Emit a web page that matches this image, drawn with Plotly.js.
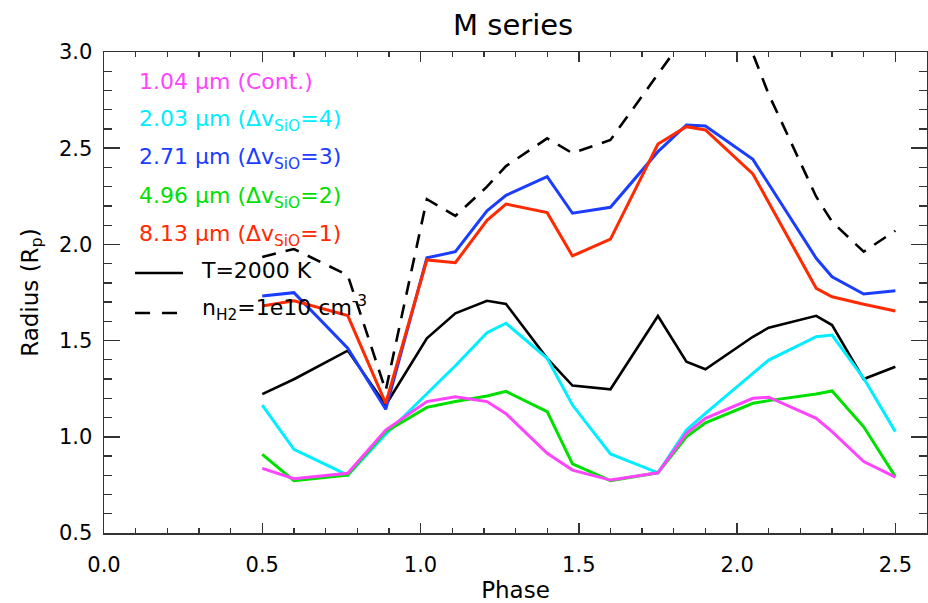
<!DOCTYPE html>
<html>
<head>
<meta charset="utf-8">
<script src="https://cdn.plot.ly/plotly-3.0.1.min.js"></script>
<style>html,body{margin:0;padding:0;background:#fff;}#chart{width:928px;height:603px;}</style>
</head>
<body>
<div id="chart"></div>
<script>
// ---- data ----
var phase = [0.50, 0.60, 0.77, 0.89, 1.02, 1.11, 1.21, 1.27, 1.40, 1.48, 1.60, 1.75, 1.84, 1.90, 2.05, 2.10, 2.25, 2.30, 2.40, 2.50];
var r104 = [0.836, 0.782, 0.810, 1.035, 1.183, 1.208, 1.183, 1.120, 0.914, 0.827, 0.775, 0.813, 1.018, 1.096, 1.200, 1.206, 1.096, 1.027, 0.871, 0.790];
var r203 = [1.165, 0.935, 0.801, 1.013, 1.224, 1.369, 1.541, 1.590, 1.408, 1.165, 0.911, 0.813, 1.035, 1.122, 1.330, 1.399, 1.520, 1.529, 1.304, 1.027];
var r271 = [1.732, 1.749, 1.460, 1.143, 1.930, 1.962, 2.175, 2.255, 2.352, 2.162, 2.193, 2.482, 2.621, 2.615, 2.442, 2.314, 1.928, 1.832, 1.742, 1.759];
var r496 = [0.909, 0.772, 0.801, 1.027, 1.153, 1.183, 1.212, 1.236, 1.131, 0.859, 0.772, 0.813, 1.000, 1.073, 1.174, 1.188, 1.222, 1.238, 1.052, 0.793];
var r813 = [1.680, 1.707, 1.630, 1.174, 1.919, 1.905, 2.125, 2.210, 2.165, 1.940, 2.027, 2.522, 2.612, 2.595, 2.366, 2.219, 1.772, 1.728, 1.689, 1.654];
var rT2000 = [1.222, 1.299, 1.448, 1.165, 1.512, 1.642, 1.707, 1.690, 1.408, 1.266, 1.247, 1.628, 1.390, 1.351, 1.520, 1.567, 1.629, 1.581, 1.300, 1.364];
var rNH2 = [1.935, 1.976, 1.840, 1.240, 2.235, 2.148, 2.300, 2.407, 2.551, 2.474, 2.543, 2.885, 3.090, 3.130, 2.990, 2.780, 2.248, 2.118, 1.962, 2.071];

var seriesLabels = [
  '1.04 \u03bcm (Cont.)',
  '2.03 \u03bcm (\u0394v<sub>SiO</sub>=4)',
  '2.71 \u03bcm (\u0394v<sub>SiO</sub>=3)',
  '4.96 \u03bcm (\u0394v<sub>SiO</sub>=2)',
  '8.13 \u03bcm (\u0394v<sub>SiO</sub>=1)',
  'T=2000 K',
  'n<sub>H2</sub>=1e10 cm<sup>-3</sup>'
];
var xTickVals = [0.0, 0.5, 1.0, 1.5, 2.0, 2.5];
var yTickVals = [0.5, 1.0, 1.5, 2.0, 2.5, 3.0];

// ---- styling ----
var colors = ['#ff44ff', '#00eeff', '#1a3dff', '#00e000', '#ff2a00', '#000000', '#000000'];
var FONT = 'DejaVu Sans, Arial, sans-serif';
var seriesY = [r104, r203, r271, r496, r813, rT2000, rNH2];
var drawOrder = [6, 5, 2, 4, 1, 3, 0];

var traces = drawOrder.map(function (i) {
  return {
    x: phase, y: seriesY[i], type: 'scatter', mode: 'lines',
    name: seriesLabels[i], showlegend: false, hoverinfo: 'skip',
    line: {color: colors[i], width: (i >= 5 ? 2.6 : 3), dash: (i === 6 ? '14px,10px' : 'solid')}
  };
});

// legend text annotations (paper coords)
var rowY = [0.938, 0.858, 0.778, 0.698, 0.618, 0.545, 0.468];
var annotations = [];
for (var k = 0; k < 5; k++) {
  annotations.push({xref: 'paper', yref: 'paper', x: 0.040, y: rowY[k], xanchor: 'left', yanchor: 'middle',
    text: seriesLabels[k], showarrow: false, font: {family: FONT, size: 22, color: colors[k]}});
}
annotations.push({xref: 'paper', yref: 'paper', x: 0.116, y: rowY[5], xanchor: 'left', yanchor: 'middle',
  text: seriesLabels[5], showarrow: false, font: {family: FONT, size: 22, color: '#000'}});
annotations.push({xref: 'paper', yref: 'paper', x: 0.117, y: rowY[6], xanchor: 'left', yanchor: 'middle',
  text: seriesLabels[6], showarrow: false, font: {family: FONT, size: 22, color: '#000'}});

var shapes = [
  {type: 'line', xref: 'paper', yref: 'paper', x0: 0.0377, x1: 0.096, y0: 0.5405, y1: 0.5405, line: {color: '#000', width: 2.6}},
  {type: 'line', xref: 'paper', yref: 'paper', x0: 0.0377, x1: 0.092, y0: 0.4574, y1: 0.4574, line: {color: '#000', width: 2.6, dash: '15px,12px'}}
];

var axisCommon = {
  showline: true, linewidth: 1.5, linecolor: '#333', mirror: 'ticks',
  ticks: 'inside', tickwidth: 1.5, tickcolor: '#333',
  showgrid: false, zeroline: false, tickformat: '.1f',
  tickfont: {family: FONT, size: 21, color: '#000'}
};

var layout = {
  width: 928, height: 603,
  margin: {l: 104, r: 1, t: 52, b: 70},
  paper_bgcolor: '#fff', plot_bgcolor: '#fff',
  showlegend: false,
  title: {text: 'M series', font: {family: FONT, size: 29, color: '#000'}, x: 0.553, xanchor: 'center', y: 0.958, yanchor: 'middle'},
  xaxis: Object.assign({}, axisCommon, {
    range: [0, 2.6], tickmode: 'array', tickvals: xTickVals, ticklen: 10,
    minor: {dtick: 0.1, tick0: 0, ticks: 'inside', ticklen: 5, tickwidth: 1.3, tickcolor: '#333'},
    ticklabelstandoff: 12,
    title: {text: 'Phase', font: {family: FONT, size: 23, color: '#000'}, standoff: 8}
  }),
  yaxis: Object.assign({}, axisCommon, {
    range: [0.5, 3.0], tickmode: 'array', tickvals: yTickVals, ticklen: 16,
    minor: {dtick: 0.1, tick0: 0.5, ticks: 'inside', ticklen: 8, tickwidth: 1.3, tickcolor: '#333'},
    ticklabelstandoff: 6,
    title: {text: 'Radius (R<sub>p</sub>)', font: {family: FONT, size: 23, color: '#000'}, standoff: 14}
  }),
  annotations: annotations,
  shapes: shapes
};

Plotly.newPlot('chart', traces, layout, {staticPlot: true, displayModeBar: false});
</script>
</body>
</html>
